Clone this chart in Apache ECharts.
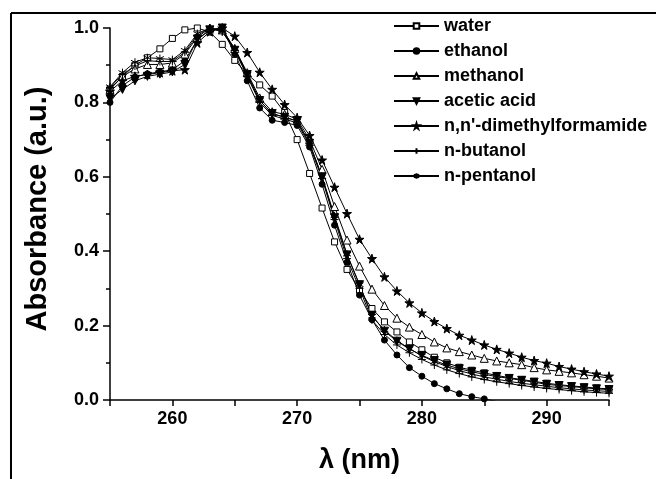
<!DOCTYPE html>
<html><head><meta charset="utf-8">
<script src="https://cdn.jsdelivr.net/npm/echarts@6/dist/echarts.min.js"></script>
<style>html,body{margin:0;padding:0;background:#fff}#c{width:656px;height:479px}</style>
</head><body><div id="c"></div>
<script>
const wavelengths = [255,256,257,258,259,260,261,262,263,264,265,266,267,268,269,270,271,272,273,274,275,276,277,278,279,280,281,282,283,284,285,286,287,288,289,290,291,292,293,294,295];
const water = [0.835,0.870,0.900,0.920,0.944,0.972,0.995,1.000,0.989,0.956,0.913,0.876,0.847,0.817,0.773,0.700,0.609,0.516,0.425,0.351,0.295,0.246,0.210,0.183,0.156,0.135,0.115,0.100,0.088,0.080,0.073,0.066,0.060,0.055,0.050,0.045,0.041,0.038,0.035,0.032,0.030];
const ethanol = [0.800,0.845,0.868,0.877,0.882,0.888,0.912,0.968,0.995,1.000,0.930,0.858,0.785,0.752,0.746,0.738,0.680,0.580,0.470,0.370,0.282,0.216,0.161,0.121,0.087,0.064,0.044,0.030,0.017,0.009,0.003,-0.004];
const methanol = [0.835,0.870,0.890,0.902,0.902,0.906,0.930,0.975,1.000,0.995,0.945,0.880,0.812,0.775,0.768,0.755,0.700,0.620,0.520,0.430,0.360,0.298,0.254,0.220,0.196,0.176,0.156,0.140,0.130,0.121,0.112,0.105,0.100,0.095,0.087,0.081,0.077,0.073,0.068,0.064,0.059];
const aceticAcid = [0.810,0.835,0.858,0.870,0.876,0.882,0.902,0.970,0.995,1.000,0.940,0.875,0.805,0.770,0.760,0.750,0.690,0.600,0.490,0.390,0.310,0.228,0.185,0.158,0.137,0.120,0.106,0.094,0.084,0.076,0.069,0.063,0.058,0.053,0.048,0.042,0.039,0.036,0.033,0.030,0.028];
const dmf = [0.830,0.858,0.870,0.875,0.880,0.885,0.888,0.960,0.990,1.000,0.978,0.934,0.881,0.835,0.794,0.759,0.711,0.645,0.572,0.501,0.432,0.380,0.331,0.293,0.261,0.234,0.211,0.192,0.174,0.161,0.148,0.136,0.126,0.115,0.106,0.099,0.090,0.083,0.076,0.070,0.064];
const butanol = [0.840,0.875,0.898,0.912,0.910,0.910,0.935,0.980,1.000,0.990,0.940,0.870,0.800,0.765,0.755,0.745,0.685,0.595,0.485,0.380,0.300,0.215,0.176,0.148,0.127,0.109,0.094,0.081,0.071,0.062,0.055,0.049,0.044,0.039,0.035,0.031,0.028,0.025,0.022,0.020,0.018];
const pentanol = [0.842,0.880,0.908,0.920,0.918,0.915,0.940,0.985,1.000,0.990,0.945,0.875,0.805,0.770,0.760,0.750,0.690,0.600,0.495,0.392,0.310,0.225,0.188,0.160,0.138,0.119,0.103,0.090,0.079,0.070,0.062,0.056,0.050,0.045,0.041,0.037,0.033,0.030,0.027,0.025,0.023];
const seriesNames = ['water','ethanol','methanol','acetic acid',"n,n'-dimethylformamide",'n-butanol','n-pentanol'];
const yTicks = [0,0.2,0.4,0.6,0.8,1.0];
const xTickLabels = [260,270,280,290];

const FONT = 'Liberation Sans, Arial, sans-serif';
const STAR = 'path://M50,0 L61,35 L98,35 L68,57 L79,91 L50,70 L21,91 L32,57 L2,35 L39,35 Z';
const PLUS = 'path://M5,0 L5,10 M0,5 L10,5';
const ASTER = 'path://M5,0 L5,10 M0.7,2.5 L9.3,7.5 M0.7,7.5 L9.3,2.5';
const DOWN = 'path://M0,0 L10,0 L5,9 Z';

function pairs(ys){ return ys.map((v,i)=>[wavelengths[i], v]); }
const styles = [
  {data: water, symbol:'rect', size:6, fill:'#fff'},
  {data: ethanol, symbol:'circle', size:6, fill:'#000'},
  {data: methanol, symbol:'triangle', size:8, fill:'#fff'},
  {data: aceticAcid, symbol:DOWN, size:8, fill:'#000'},
  {data: dmf, symbol:STAR, size:9, fill:'#000'},
  {data: butanol, symbol:PLUS, size:8, fill:'#000'},
  {data: pentanol, symbol:ASTER, size:8, fill:'#000'}
];
const series = styles.map((s,i)=>({
  name: seriesNames[i], type:'line', data: pairs(s.data),
  symbol: s.symbol, symbolSize: s.size, showAllSymbol: true, clip: true,
  lineStyle:{color:'#000', width:1},
  itemStyle:{color:s.fill, borderColor:'#000', borderWidth:1},
  emphasis:{disabled:true}, animation:false
}));

const chart = echarts.init(document.getElementById('c'), null, {renderer:'canvas'});
chart.setOption({
  animation:false,
  backgroundColor:'#fff',
  grid:{left:110, top:28, width:499, height:378, containLabel:false},
  xAxis:{type:'value', min:255, max:295, interval:5,
    name:'λ (nm)', nameLocation:'middle', nameGap:47,
    nameTextStyle:{fontFamily:FONT, fontWeight:'bold', fontSize:27, color:'#000'},
    axisLine:{lineStyle:{color:'#000', width:1.5}},
    axisTick:{show:true, length:6, inside:false, lineStyle:{color:'#000', width:1.5}},
    axisLabel:{margin:10, fontFamily:FONT, fontWeight:'bold', fontSize:18, color:'#000',
      formatter:v=> xTickLabels.indexOf(v)>=0 ? String(v) : ''},
    splitLine:{show:false}},
  yAxis:{type:'value', min:yTicks[0], max:yTicks[yTicks.length-1], interval:0.2,
    name:'Absorbance (a.u.)', nameLocation:'middle', nameGap:58,
    nameTextStyle:{fontFamily:FONT, fontWeight:'bold', fontSize:29, color:'#000', padding:[0,0,0,10]},
    axisLine:{show:true, lineStyle:{color:'#000', width:1.5}},
    axisTick:{show:true, length:7, lineStyle:{color:'#000', width:1.5}},
    minorTick:{show:true, splitNumber:2, length:4, lineStyle:{color:'#000', width:1.5}},
    axisLabel:{margin:11, fontFamily:FONT, fontWeight:'bold', fontSize:18, color:'#000',
      formatter:v=>v.toFixed(1)},
    splitLine:{show:false}},
  legend:{orient:'vertical', left:393, top:16, padding:0, itemGap:5,
    itemWidth:45, itemHeight:7,
    textStyle:{fontFamily:FONT, fontWeight:'bold', fontSize:18, color:'#000', lineHeight:20},
    data: seriesNames},
  graphic:[
    {type:'line', shape:{x1:11, y1:13, x2:656, y2:13}, style:{stroke:'#000', lineWidth:2}},
    {type:'line', shape:{x1:11, y1:13, x2:11, y2:479}, style:{stroke:'#000', lineWidth:2}}
  ],
  series: series
});
</script></body></html>
